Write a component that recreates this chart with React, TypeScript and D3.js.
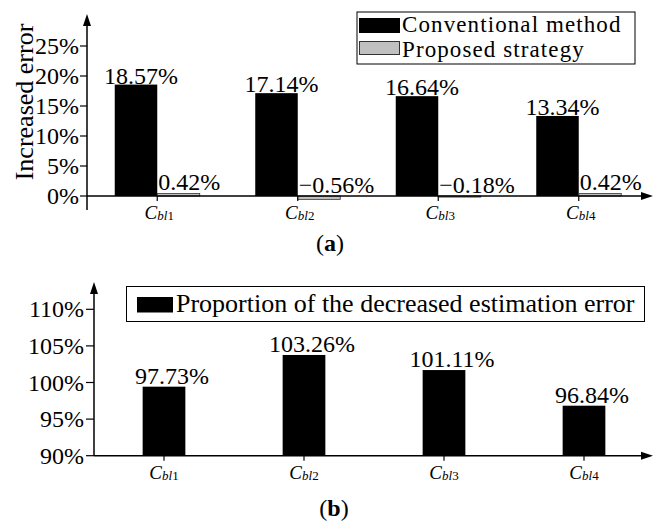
import React from "react";
import * as d3 from "d3";

const categories = ["1", "2", "3", "4"];
const conventional = [18.57, 17.14, 16.64, 13.34];
const proposed = [0.42, -0.56, -0.18, 0.42];
const conventionalLabels = ["18.57%", "17.14%", "16.64%", "13.34%"];
const proposedLabels = ["0.42%", "\u22120.56%", "\u22120.18%", "0.42%"];
const ticksA = [0, 5, 10, 15, 20, 25];
const proportion = [99.43, 103.76, 101.7, 96.83];
const proportionLabels = ["97.73%", "103.26%", "101.11%", "96.84%"];
const ticksB = [90, 95, 100, 105, 110];
const legendA = ["Conventional method", "Proposed strategy"];
const legendB = "Proportion of the decreased estimation error";
const yTitleA = "Increased error";

const FONT = "'Liberation Serif', 'Times New Roman', serif";

function CatLabel({ x, y, n }: { x: number; y: number; n: string }) {
  return (
    <text x={x} y={y} textAnchor="middle" fontFamily={FONT}>
      <tspan fontSize={19} fontStyle="italic">C</tspan>
      <tspan fontSize={13} fontStyle="italic" dy={1}>bl</tspan>
      <tspan fontSize={13}>{n}</tspan>
    </text>
  );
}

export default function App() {
  // Panel (a)
  const xA = d3.scaleBand<string>().domain(categories).range([87, 649]).paddingInner(0.395).paddingOuter(0.1975);
  const subA = d3.scaleBand<string>().domain(["c", "p"]).range([0, xA.bandwidth()]);
  const yA = d3.scaleLinear().domain([0, 25]).range([196, 46]);
  const axA = 87;
  const y0A = yA(0);

  // Panel (b)
  const xB = d3.scaleBand<string>().domain(categories).range([94, 654]).paddingInner(0.695).paddingOuter(0.3475);
  const yB = d3.scaleLinear().domain([90, 110]).range([455.7, 309.3]);
  const axB = 94;
  const y0B = yB(90);

  return (
    <svg width={654} height={522} style={{ position: "absolute", left: 0, top: 0, background: "#fff" }}>
      <rect x={0} y={0} width={654} height={522} fill="#fff" />
      {/* ===== Panel (a) ===== */}
      {categories.map((c, i) => {
        const x0 = xA(c)!;
        const xc = x0 + subA("c")!;
        const xp = x0 + subA("p")!;
        const w = subA.bandwidth();
        const yc = yA(conventional[i]);
        const yp = yA(Math.max(0, proposed[i]));
        const hp = Math.abs(yA(proposed[i]) - y0A);
        return (
          <g key={"a" + c}>
            <rect x={xc} y={yc} width={w} height={y0A - yc} fill="#000" />
            <rect x={xp} y={yp} width={w} height={Math.max(hp, 1)} fill="#c0c0c0" stroke="#333" strokeWidth={0.8} />
            <text x={xc + w / 2 + 5} y={yc - 1} textAnchor="middle" fontFamily={FONT} fontSize={24}>
              {conventionalLabels[i]}
            </text>
            <text x={xp + 1} y={Math.min(yp, y0A) - 3} textAnchor="start" fontFamily={FONT} fontSize={24}>
              {proposedLabels[i]}
            </text>
          </g>
        );
      })}
      {/* axes (a) */}
      <line x1={axA} x2={axA} y1={20} y2={210} stroke="#000" strokeWidth={1.5} />
      <path d={`M${axA},14 L${axA - 4},26 L${axA + 4},26 Z`} fill="#000" />
      <line x1={axA} x2={646} y1={y0A} y2={y0A} stroke="#000" strokeWidth={1.5} />
      <path d={`M653,${y0A} L641,${y0A - 4} L641,${y0A + 4} Z`} fill="#000" />
      {ticksA.map((t) => (
        <g key={"ta" + t}>
          <line x1={axA - 7} x2={axA} y1={yA(t)} y2={yA(t)} stroke="#000" strokeWidth={1.2} />
          <text x={axA - 8} y={yA(t) + 8} textAnchor="end" fontFamily={FONT} fontSize={24}>
            {t}%
          </text>
        </g>
      ))}
      {categories.map((c) => {
        const cx = xA(c)! + xA.bandwidth() / 2;
        return (
          <g key={"ca" + c}>
            <line x1={cx} x2={cx} y1={y0A} y2={y0A + 5} stroke="#000" strokeWidth={1.2} />
            <CatLabel x={cx + 2} y={219} n={c} />
          </g>
        );
      })}
      <text
        transform={`translate(33,102) rotate(-90)`}
        textAnchor="middle"
        fontFamily={FONT}
        fontSize={26}
      >
        {yTitleA}
      </text>
      {/* legend (a) */}
      <rect x={357} y={12} width={278} height={52} fill="#fff" stroke="#000" strokeWidth={1} />
      <rect x={359} y={18} width={41} height={15} fill="#000" />
      <rect x={359.5} y={41.5} width={40} height={13} fill="#c0c0c0" stroke="#333" strokeWidth={1} />
      <text x={402} y={31.5} fontFamily={FONT} fontSize={23} letterSpacing={1.1}>{legendA[0]}</text>
      <text x={402} y={57} fontFamily={FONT} fontSize={23} letterSpacing={1.1}>{legendA[1]}</text>
      <text x={330} y={251} textAnchor="middle" fontFamily={FONT} fontSize={24}>
        (<tspan fontWeight="bold">a</tspan>)
      </text>

      {/* ===== Panel (b) ===== */}
      {categories.map((c, i) => {
        const x0 = xB(c)!;
        const w = xB.bandwidth();
        const yv = yB(proportion[i]);
        return (
          <g key={"b" + c}>
            <rect x={x0} y={yv} width={w} height={y0B - yv} fill="#000" />
            <text x={x0 + w / 2 + 8} y={yv - 3} textAnchor="middle" fontFamily={FONT} fontSize={24}>
              {proportionLabels[i]}
            </text>
          </g>
        );
      })}
      <line x1={axB} x2={axB} y1={288} y2={y0B} stroke="#000" strokeWidth={1.5} />
      <path d={`M${axB},282 L${axB - 4},294 L${axB + 4},294 Z`} fill="#000" />
      <line x1={axB} x2={646} y1={y0B} y2={y0B} stroke="#000" strokeWidth={1.5} />
      <path d={`M653,${y0B} L641,${y0B - 4} L641,${y0B + 4} Z`} fill="#000" />
      {ticksB.map((t) => (
        <g key={"tb" + t}>
          <line x1={axB - 8} x2={axB} y1={yB(t)} y2={yB(t)} stroke="#000" strokeWidth={1.2} />
          <text x={axB - 10} y={yB(t) + 8} textAnchor="end" fontFamily={FONT} fontSize={24}>
            {t}%
          </text>
        </g>
      ))}
      {categories.map((c) => {
        const cx = xB(c)! + xB.bandwidth() / 2;
        return (
          <g key={"cb" + c}>
            <line x1={cx} x2={cx} y1={y0B} y2={y0B + 5} stroke="#000" strokeWidth={1.2} />
            <CatLabel x={cx} y={479} n={c} />
          </g>
        );
      })}
      <rect x={126.5} y={286.5} width={518} height={35} fill="#fff" stroke="#000" strokeWidth={1} />
      <rect x={137} y={297} width={36} height={15.5} fill="#000" />
      <text x={176} y={312} fontFamily={FONT} fontSize={26}>{legendB}</text>
      <text x={334} y={516} textAnchor="middle" fontFamily={FONT} fontSize={24}>
        (<tspan fontWeight="bold">b</tspan>)
      </text>
    </svg>
  );
}
